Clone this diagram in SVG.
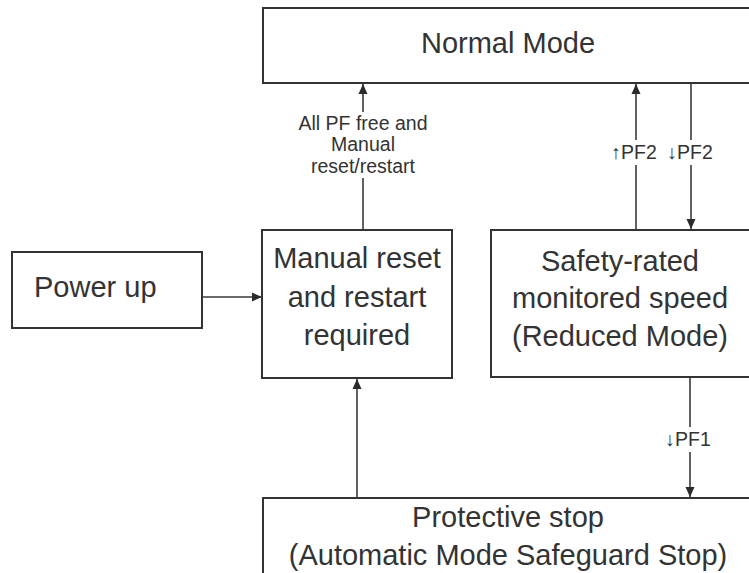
<svg xmlns="http://www.w3.org/2000/svg" width="749" height="573" viewBox="0 0 749 573">
  <defs>
    <marker id="arrow" viewBox="0 0 10 10" refX="10" refY="5" markerWidth="10" markerHeight="10" markerUnits="userSpaceOnUse" orient="auto">
      <path d="M0,0.5 L10,5 L0,9.5 Z" fill="#2b2b2b"/>
    </marker>
    <style>
      .box { fill: #ffffff; stroke: #333333; stroke-width: 2; }
      .node { font-family: "Liberation Sans", Arial, sans-serif; font-size: 29px; fill: #333333; text-anchor: middle; }
      .lbl { font-family: "Liberation Sans", Arial, sans-serif; font-size: 19.5px; fill: #333333; text-anchor: middle; }
      .edge { stroke: #3a3a3a; stroke-width: 1.6; fill: none; }
      .gap { fill: #ffffff; }
    </style>
  </defs>
  <rect width="749" height="573" fill="#ffffff"/>

  <!-- connectors -->
  <g id="connectors">
    <line class="edge" x1="202" y1="297" x2="262" y2="297" marker-end="url(#arrow)"/>
    <line class="edge" x1="363" y1="230" x2="363" y2="84" marker-end="url(#arrow)"/>
    <line class="edge" x1="636" y1="230" x2="636" y2="84" marker-end="url(#arrow)"/>
    <line class="edge" x1="691" y1="84" x2="691" y2="229" marker-end="url(#arrow)"/>
    <line class="edge" x1="690" y1="378" x2="690" y2="497" marker-end="url(#arrow)"/>
    <line class="edge" x1="357" y1="498" x2="357" y2="379" marker-end="url(#arrow)"/>

    <!-- edge labels -->
    <rect class="gap" x="284" y="112" width="158" height="66"/>
    <text class="lbl" x="363" y="130">All PF free and</text>
    <text class="lbl" x="363" y="151">Manual</text>
    <text class="lbl" x="363" y="173">reset/restart</text>

    <rect class="gap" x="610" y="140" width="108" height="25"/>
    <text class="lbl" x="634" y="159">↑PF2</text>
    <text class="lbl" x="690" y="159">↓PF2</text>

    <rect class="gap" x="662" y="427" width="54" height="25"/>
    <text class="lbl" x="688" y="446">↓PF1</text>
  </g>

  <g id="normal-mode">
    <rect class="box" x="263" y="8" width="490" height="75"/>
    <text class="node" x="508" y="53">Normal Mode</text>
  </g>

  <g id="power-up">
    <rect class="box" x="12" y="252" width="190" height="76"/>
    <text class="node" x="34" y="297" style="text-anchor:start">Power up</text>
  </g>

  <g id="manual-reset">
    <rect class="box" x="262" y="230" width="190" height="148"/>
    <text class="node" x="357" y="268">Manual reset</text>
    <text class="node" x="357" y="307">and restart</text>
    <text class="node" x="357" y="345">required</text>
  </g>

  <g id="reduced-mode">
    <rect class="box" x="491" y="230" width="262" height="147"/>
    <text class="node" x="620" y="271">Safety-rated</text>
    <text class="node" x="620" y="308">monitored speed</text>
    <text class="node" x="620" y="346">(Reduced Mode)</text>
  </g>

  <g id="protective-stop">
    <rect class="box" x="263" y="498" width="490" height="90"/>
    <text class="node" x="508" y="527">Protective stop</text>
    <text class="node" x="508" y="565">(Automatic Mode Safeguard Stop)</text>
  </g>
</svg>
